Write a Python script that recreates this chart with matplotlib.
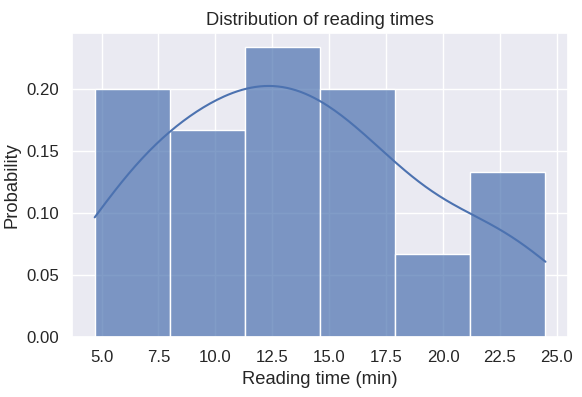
import matplotlib
matplotlib.use("Agg")
import matplotlib.pyplot as plt
import seaborn as sns
import numpy as np

reading_times = [4.7, 5.0, 5.9, 6.6, 7.3, 7.9,
                 8.3, 9.0, 9.8, 10.5, 11.2,
                 11.4, 11.8, 12.2, 12.6, 13.1, 13.7, 14.4,
                 14.9, 15.5, 16.0, 16.6, 17.1, 17.6,
                 18.8, 20.3,
                 21.9, 22.5, 23.1, 24.5]
n_bins = 6

sns.set_theme(font_scale=1.1)
plt.rcParams['font.family'] = ['Liberation Sans', 'DejaVu Sans']
fig, ax = plt.subplots(figsize=(5.82, 3.97), dpi=100)
sns.histplot(reading_times, bins=n_bins, stat="probability", kde=True, ax=ax, alpha=0.7)
ax.set_title("Distribution of reading times")
ax.set_xlabel("Reading time (min)")
ax.set_ylabel("Probability")
fig.subplots_adjust(left=0.124, right=0.976, top=0.917, bottom=0.151)
fig.savefig("out.png", dpi=100)
